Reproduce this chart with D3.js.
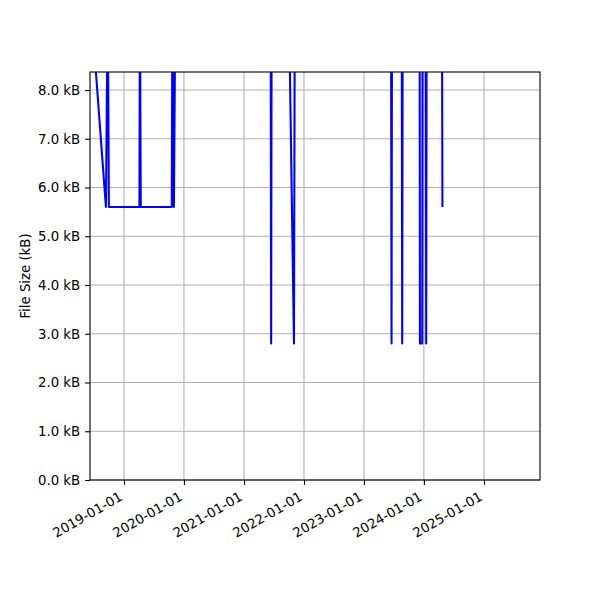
<!DOCTYPE html>
<html>
<head>
<meta charset="utf-8">
<script src="https://cdn.jsdelivr.net/npm/d3@7"></script>
<style>
  html, body { margin: 0; padding: 0; background: #fff; }
  svg { display: block; }
  text { font-family: "DejaVu Sans", sans-serif; }
</style>
</head>
<body>
<svg id="chart" width="600" height="600"></svg>
<script>
// ---- data (sizes in kB; values above the y-limit are clipped) ----
const dates = [
  "2018-06-08", "2018-09-13", "2018-09-24", "2018-10-01",
  "2019-04-05", "2019-04-08", "2019-04-13",
  "2019-10-19", "2019-10-23", "2019-11-01", "2019-11-10",
  "2021-06-12", "2021-06-15", "2021-06-18",
  "2021-09-30", "2021-11-01", "2021-11-06",
  "2023-06-15", "2023-06-18", "2023-06-21",
  "2023-08-19", "2023-08-22", "2023-08-25",
  "2023-12-06", "2023-12-08", "2023-12-22", "2023-12-24",
  "2024-01-12", "2024-01-15", "2024-01-18",
  "2024-04-20", "2024-04-23"
];
const sizes = [
  10.0, 5.6, 10.0, 5.6,
  5.6, 10.0, 5.6,
  5.6, 10.0, 5.6, 10.0,
  10.0, 2.8, 10.0,
  10.0, 2.8, 10.0,
  10.0, 2.8, 10.0,
  10.0, 2.8, 10.0,
  10.0, 2.8, 2.8, 10.0,
  10.0, 2.8, 10.0,
  10.0, 5.6
];
const xDomain = ["2018-06-08", "2025-12-08"];
const yDomain = [0, 8.37];
const xTickDates = ["2019-01-01", "2020-01-01", "2021-01-01", "2022-01-01", "2023-01-01", "2024-01-01", "2025-01-01"];
const yTickValues = [0, 1, 2, 3, 4, 5, 6, 7, 8];
const yLabel = "File Size (kB)";

// ---- layout ----
const mLeft = 90, mRight = 540, mTop = 72, mBottom = 480;
const parse = d3.utcParse("%Y-%m-%d");
const fmtDate = d3.utcFormat("%Y-%m-%d");
const data = dates.map((d, i) => ({ date: parse(d), size: sizes[i] }));

const svg = d3.select("#chart");
const x = d3.scaleUtc().domain(xDomain.map(parse)).range([mLeft, mRight]);
const y = d3.scaleLinear().domain(yDomain).range([mBottom, mTop]);

const fontSize = 13.3;
const gridColor = "#b0b0b0";

// grid
const grid = svg.append("g");
grid.selectAll("line.gx").data(xTickDates.map(parse)).enter().append("line")
  .attr("x1", d => x(d)).attr("x2", d => x(d))
  .attr("y1", mTop).attr("y2", mBottom)
  .attr("stroke", gridColor).attr("stroke-width", 1.1);
grid.selectAll("line.gy").data(yTickValues).enter().append("line")
  .attr("x1", mLeft).attr("x2", mRight)
  .attr("y1", d => y(d)).attr("y2", d => y(d))
  .attr("stroke", gridColor).attr("stroke-width", 1.1);

// clip
svg.append("clipPath").attr("id", "clip").append("rect")
  .attr("x", mLeft).attr("y", mTop).attr("width", mRight - mLeft).attr("height", mBottom - mTop);

const line = d3.line().x(d => x(d.date)).y(d => y(d.size));
svg.append("path").datum(data)
  .attr("clip-path", "url(#clip)")
  .attr("d", line)
  .attr("fill", "none")
  .attr("stroke", "#0000ff")
  .attr("stroke-width", 2.08)
  .attr("stroke-linejoin", "round");

// axes
const xAxis = d3.axisBottom(x).tickValues(xTickDates.map(parse)).tickFormat(fmtDate)
  .tickSizeInner(4.9).tickSizeOuter(0).tickPadding(4.9);
const gx = svg.append("g").attr("transform", `translate(0,${mBottom})`).call(xAxis);
gx.select(".domain").remove();
gx.selectAll(".tick line").attr("stroke", "#000").attr("stroke-width", 1.1);
gx.selectAll(".tick text")
  .attr("font-size", fontSize)
  .attr("font-family", "DejaVu Sans")
  .attr("fill", "#000")
  .attr("text-anchor", "end")
  .attr("dy", null)
  .attr("y", 0)
  .attr("transform", "translate(-6,11) rotate(-30)")
  .attr("dominant-baseline", "hanging");

const yAxis = d3.axisLeft(y).tickValues(yTickValues).tickFormat(d => d3.format(".1f")(d) + " kB")
  .tickSizeInner(4.9).tickSizeOuter(0).tickPadding(4.9);
const gy = svg.append("g").attr("transform", `translate(${mLeft},0)`).call(yAxis);
gy.select(".domain").remove();
gy.selectAll(".tick line").attr("stroke", "#000").attr("stroke-width", 1.1);
gy.selectAll(".tick text").attr("font-size", fontSize).attr("font-family", "DejaVu Sans").attr("fill", "#000");

// spines
svg.append("rect").attr("x", mLeft).attr("y", mTop).attr("width", mRight - mLeft).attr("height", mBottom - mTop)
  .attr("fill", "none").attr("stroke", "#000").attr("stroke-width", 1.1);

// y label
svg.append("text")
  .attr("transform", `translate(30,${(mTop + mBottom) / 2}) rotate(-90)`)
  .attr("text-anchor", "middle")
  .attr("font-size", fontSize)
  .attr("fill", "#000")
  .text(yLabel);
</script>
</body>
</html>
